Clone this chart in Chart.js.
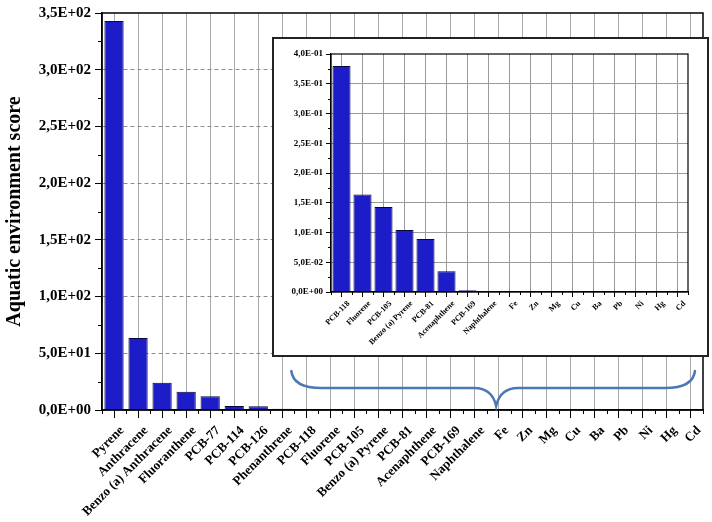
<!DOCTYPE html>
<html lang="en">
<head>
  <meta charset="UTF-8">
  <title>Aquatic environment score</title>
  <style>
    body { margin: 0; background: #fff; }
    #wrap { position: relative; width: 712px; height: 522px; }
    #mainChart { position: absolute; left: 0; top: 0; }
    .inset {
      position: absolute;
      left: 272px;
      top: 37px;
      width: 433px;
      height: 316px;
      border: 2px solid #222;
      background: #fff;
    }
  </style>
</head>
<body>
  <div id="wrap">
    <canvas id="mainChart" width="712" height="522"></canvas>
    <div class="inset">
      <canvas id="insetChart" width="433" height="316"></canvas>
    </div>
  </div>

  <script src="https://cdn.jsdelivr.net/npm/chart.js@4.4.1/dist/chart.umd.min.js"></script>
  <script>
    // categories (main chart, sorted by score)
    const categories = ['Pyrene', 'Anthracene', 'Benzo (a) Anthracene', 'Fluoranthene', 'PCB-77', 'PCB-114',
      'PCB-126', 'Phenanthrene', 'PCB-118', 'Fluorene', 'PCB-105', 'Benzo (a) Pyrene', 'PCB-81',
      'Acenaphthene', 'PCB-169', 'Naphthalene', 'Fe', 'Zn', 'Mg', 'Cu', 'Ba', 'Pb', 'Ni', 'Hg', 'Cd'];
    // scores
    const scores = [343, 63.5, 24, 16, 12.2, 3.5, 3.4, 1.1, 0.38, 0.164, 0.143, 0.104, 0.089,
      0.035, 0.003, 0.0015, 0, 0, 0, 0, 0, 0, 0, 0, 0];
    // zoomed part (from PCB-118 on)
    const insetStart = 8;
    const insetCategories = categories.slice(insetStart);
    const insetScores = scores.slice(insetStart);

    const serif = '"Liberation Serif", "DejaVu Serif", serif';
    const barFill = '#1c1dc8';
    const barLine = '#05053a';

    // 3,5E+02 style numbers
    function sci(v) {
      if (Math.abs(v) < 1e-12) return '0,0E+00';
      let e = Math.floor(Math.log10(v) + 1e-9);
      let m = (v / Math.pow(10, e)).toFixed(1);
      if (m === '10.0') { m = '1.0'; e += 1; }
      const sign = e < 0 ? '-' : '+';
      return m.replace('.', ',') + 'E' + sign + String(Math.abs(e)).padStart(2, '0');
    }

    // minor ticks + frame round the plot area
    const minorTicks = {
      id: 'minorTicks',
      afterDraw(chart, args, opts) {
        const { ctx, chartArea: a } = chart;
        const x = chart.scales.x, y = chart.scales.y;
        ctx.save();
        ctx.strokeStyle = '#000';
        ctx.lineWidth = 1;
        ctx.beginPath();
        for (let v = opts.yStep; v < y.max; v += opts.yStep * 2) {
          const py = Math.round(y.getPixelForValue(v)) + 0.5;
          ctx.moveTo(a.left - opts.len, py);
          ctx.lineTo(a.left, py);
        }
        for (let i = 0; i <= chart.data.labels.length; i++) {
          const px = Math.round(x.getPixelForValue(i - 0.5)) + 0.5;
          ctx.moveTo(px, a.bottom);
          ctx.lineTo(px, a.bottom + opts.len);
        }
        ctx.stroke();
        ctx.lineWidth = opts.frame;
        ctx.strokeRect(a.left, a.top, a.right - a.left, a.bottom - a.top);
        ctx.restore();
      }
    };

    // curly brace under the inset, spanning PCB-118 .. Cd
    const brace = {
      id: 'brace',
      afterDraw(chart) {
        const x = chart.scales.x;
        const { ctx } = chart;
        const x0 = x.getPixelForValue(insetStart - 0.5) - 3;
        const x1 = x.getPixelForValue(categories.length - 1) + 4;
        const mid = (x0 + x1) / 2 + 3;
        const yTop = 371, yMid = 388, yTip = 406;
        ctx.save();
        ctx.strokeStyle = '#4a79b6';
        ctx.lineWidth = 2.5;
        ctx.lineCap = 'round';
        ctx.beginPath();
        ctx.moveTo(x0, yTop);
        ctx.quadraticCurveTo(x0 + 2, yMid, x0 + 30, yMid);
        ctx.lineTo(mid - 22, yMid);
        ctx.quadraticCurveTo(mid - 4, yMid, mid, yTip);
        ctx.quadraticCurveTo(mid + 4, yMid, mid + 22, yMid);
        ctx.lineTo(x1 - 30, yMid);
        ctx.quadraticCurveTo(x1 - 2, yMid, x1, yTop);
        ctx.stroke();
        ctx.restore();
      }
    };

    // 메인 차트
    new Chart(document.getElementById('mainChart'), {
      type: 'bar',
      plugins: [minorTicks, brace],
      data: {
        labels: categories,
        datasets: [{
          data: scores,
          backgroundColor: barFill,
          borderColor: barLine,
          borderWidth: 1,
          barPercentage: 0.8,
          categoryPercentage: 1
        }]
      },
      options: {
        responsive: false,
        animation: false,
        layout: { padding: { left: 0, top: 9, right: 9, bottom: 0 } },
        plugins: {
          legend: { display: false },
          tooltip: { enabled: false },
          minorTicks: { yStep: 25, len: 4, frame: 1.5 }
        },
        scales: {
          x: {
            offset: true,
            grid: { offset: false, color: '#a8a8a8', lineWidth: 1, tickColor: '#000', tickLength: 8 },
            border: { color: '#000', width: 1.5 },
            ticks: {
              autoSkip: false,
              minRotation: 45,
              maxRotation: 45,
              padding: 5,
              labelOffset: 8,
              color: '#000',
              font: { family: serif, size: 13, weight: 'bold' }
            },
            afterFit(s) { s.height = 112; }
          },
          y: {
            min: 0,
            max: 350,
            grid: {
              color: (c) => (c.tick && c.tick.value > 0 && c.tick.value < 350) ? '#8c8c8c' : 'rgba(0,0,0,0)',
              tickColor: '#000',
              tickLength: 7
            },
            border: { color: '#000', width: 1.5, dash: [4, 3] },
            ticks: {
              stepSize: 50,
              padding: 4,
              color: '#000',
              font: { family: serif, size: 15, weight: 'bold' },
              callback: (v) => sci(v)
            },
            title: {
              display: true,
              text: 'Aquatic environment score',
              color: '#000',
              padding: { top: 3, bottom: 0 },
              font: { family: serif, size: 20, weight: 'bold' }
            },
            afterFit(s) { s.width = 102; }
          }
        }
      }
    });

    // 확대 차트 (inset)
    new Chart(document.getElementById('insetChart'), {
      type: 'bar',
      plugins: [minorTicks],
      data: {
        labels: insetCategories,
        datasets: [{
          data: insetScores,
          backgroundColor: barFill,
          borderColor: barLine,
          borderWidth: 1,
          barPercentage: 0.86,
          categoryPercentage: 1
        }]
      },
      options: {
        responsive: false,
        animation: false,
        layout: { padding: { left: 0, top: 15, right: 19, bottom: 0 } },
        plugins: {
          legend: { display: false },
          tooltip: { enabled: false },
          minorTicks: { yStep: 0.025, len: 3, frame: 1.2 }
        },
        scales: {
          x: {
            offset: true,
            grid: { offset: false, color: '#9a9a9a', lineWidth: 1, tickColor: '#000', tickLength: 5 },
            border: { color: '#000', width: 1.2 },
            ticks: {
              autoSkip: false,
              minRotation: 45,
              maxRotation: 45,
              padding: 2,
              labelOffset: 7,
              color: '#000',
              font: { family: serif, size: 8, weight: 'bold' }
            },
            afterFit(s) { s.height = 63; }
          },
          y: {
            min: 0,
            max: 0.4,
            grid: {
              color: (c) => (c.tick && c.tick.value > 0 && c.tick.value < 0.399) ? '#9a9a9a' : 'rgba(0,0,0,0)',
              tickColor: '#000',
              tickLength: 5
            },
            border: { color: '#000', width: 1.2 },
            ticks: {
              stepSize: 0.05,
              padding: 3,
              color: '#000',
              font: { family: serif, size: 9, weight: 'bold' },
              callback: (v) => sci(v)
            },
            afterFit(s) { s.width = 57; }
          }
        }
      }
    });
  </script>
</body>
</html>
